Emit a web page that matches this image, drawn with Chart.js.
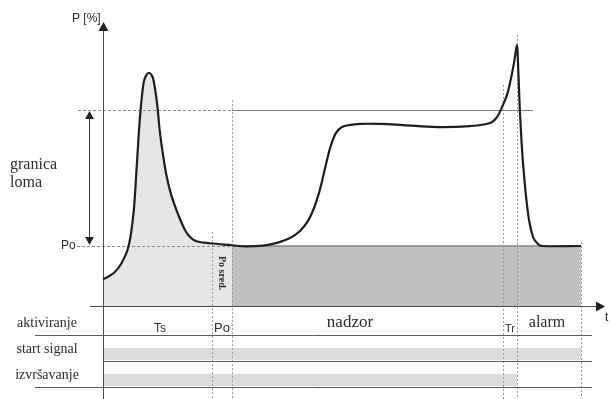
<!DOCTYPE html>
<html>
<head>
<meta charset="utf-8">
<script src="https://cdn.jsdelivr.net/npm/chart.js@4.4.0/dist/chart.umd.min.js"></script>
<style>
  html, body { margin: 0; padding: 0; background: #fff; }
  #wrap { width: 611px; height: 399px; position: relative; }
</style>
</head>
<body>
<div id="wrap"><canvas id="chart" width="611" height="399"></canvas></div>
<script>
// Krivulja: vrijeme t i tlak P [%] (granica loma = 100)
const tCurve = [0, 2.1, 3.7, 5.1, 6.1, 6.7, 7.4, 8.1, 8.6, 9.2, 9.7, 10.1, 10.8, 11.4, 12.1, 12.8, 13.6,
  14.4, 15.4, 16.4, 17.4, 18.7, 21.4, 25.8, 28.4, 32, 34.6, 37.4, 39.4, 41, 42.2, 43.2, 44, 44.8, 45.6, 46.6,
  47.8, 49.2, 51.4, 55.4, 60, 66.8, 73.4, 77.4, 78.8, 80, 80.8, 81.4, 82.2, 82.8, 83, 83.4, 84, 85, 86, 87,
  87.8, 95.6];
const pCurve = [13.6, 16.7, 21.8, 30.3, 47.3, 69.4, 96.6, 113.6, 117.6, 119, 117.9, 115.3, 103.6, 88.3, 75.5,
  65.3, 57.1, 51, 44.4, 38.8, 35.2, 33, 32, 31, 30.4, 30.8, 32.1, 34.7, 38.3, 43.4, 50, 57.7, 65.8, 74.5,
  82.1, 88.3, 91.3, 92.3, 92.9, 92.9, 92.3, 91.3, 91.8, 93.4, 96.4, 102.6, 107.7, 113.8, 124, 133.2, 124,
  98.5, 73, 47.4, 35.2, 31.6, 30.6, 30.6];

const P_LIMIT = 100;   // granica loma
const P_O = 30.6;      // Po

// Po sred., kraj Po, Tr, vrh (alarm), kraj
const eventTimes = [21.8, 25.8, 80, 82.8, 95.6];

const phaseLabels = ['Ts', 'Po', 'nadzor', 'Tr', 'alarm'];
const phaseCenters = [11.4, 23.8, 49.4, 81.4, 88.8];

const laneLabels = ['aktiviranje', 'start signal', 'izvršavanje'];
const startSignal = [0, 95.6];
const izvrsavanje = [0, 82.8];

const curveData = tCurve.map((t, i) => ({ x: t, y: pCurve[i] }));
const lightData = curveData.filter(p => p.x <= eventTimes[1]);
const darkData = [{ x: eventTimes[1], y: P_O }, { x: eventTimes[4], y: P_O }];

// trake u donjem dijelu (os 'lane': 1 red = 1 jedinica)
function laneBand(span, row) {
  return {
    data: [{ x: span[0], y: row + 0.46 }, { x: span[1], y: row + 0.46 }],
    yAxisID: 'lane',
    fill: { value: row },
    backgroundColor: '#dcdcdc',
    borderWidth: 0,
    pointRadius: 0
  };
}

const serif = '"Liberation Serif", "DejaVu Serif", serif';
const sans = '"Liberation Sans", Arial, sans-serif';

function arrowHead(ctx, x, y, dir, size) {
  ctx.beginPath();
  if (dir === 'up') { ctx.moveTo(x, y); ctx.lineTo(x - size * 0.55, y + size); ctx.lineTo(x + size * 0.55, y + size); }
  if (dir === 'down') { ctx.moveTo(x, y); ctx.lineTo(x - size * 0.55, y - size); ctx.lineTo(x + size * 0.55, y - size); }
  if (dir === 'right') { ctx.moveTo(x, y); ctx.lineTo(x - size, y - size * 0.55); ctx.lineTo(x - size, y + size * 0.55); }
  ctx.closePath();
  ctx.fill();
}

function line(ctx, x1, y1, x2, y2) {
  ctx.beginPath();
  ctx.moveTo(x1, y1);
  ctx.lineTo(x2, y2);
  ctx.stroke();
}

const diagram = {
  id: 'diagram',
  beforeDatasetDraw(chart, args) {
    if (args.index !== 0) return;   // prije crtanja krivulje
    const ctx = chart.ctx;
    const X = v => chart.scales.x.getPixelForValue(v);
    const Y = v => chart.scales.y.getPixelForValue(v);
    const L = v => chart.scales.lane.getPixelForValue(v);
    const bottom = chart.chartArea.bottom;
    ctx.save();
    ctx.lineWidth = 1;

    // isprekidane okomice
    const guideTops = [37.8, 105, 112.8, 138.3, 32.7];
    ctx.strokeStyle = '#9a9a9a';
    ctx.setLineDash([2, 2]);
    eventTimes.forEach((t, i) => line(ctx, Math.round(X(t)) + 0.5, Y(guideTops[i]), Math.round(X(t)) + 0.5, bottom));

    // granica loma i Po
    ctx.strokeStyle = '#8c8c8c';
    ctx.setLineDash([3, 2]);
    line(ctx, X(-5), Math.round(Y(P_LIMIT)) + 0.5, X(eventTimes[1]), Math.round(Y(P_LIMIT)) + 0.5);
    line(ctx, X(-5.2), Math.round(Y(P_O)) + 0.5, X(eventTimes[1]), Math.round(Y(P_O)) + 0.5);
    ctx.setLineDash([]);
    ctx.strokeStyle = '#7a7a7a';
    line(ctx, X(eventTimes[1]), Math.round(Y(P_LIMIT)) + 0.5, X(86), Math.round(Y(P_LIMIT)) + 0.5);

    // dvostruka strelica granice loma
    ctx.strokeStyle = '#333';
    ctx.fillStyle = '#222';
    const ax = Math.round(X(-2.8)) + 0.5;
    line(ctx, ax, Y(P_LIMIT) + 6, ax, Y(P_O) - 6);
    arrowHead(ctx, ax, Y(P_LIMIT) + 1, 'up', 8);
    arrowHead(ctx, ax, Y(P_O) - 1, 'down', 8);

    // linije redova
    ctx.strokeStyle = '#5a5a5a';
    line(ctx, 35, Math.round(L(1)) + 0.5, X(97.8), Math.round(L(1)) + 0.5);
    line(ctx, X(0), Math.round(L(2)) + 0.5, X(97.8), Math.round(L(2)) + 0.5);
    line(ctx, 35, Math.round(L(3)) + 0.5, X(97.8), Math.round(L(3)) + 0.5);

    // osi
    ctx.strokeStyle = '#4a4a4a';
    ctx.fillStyle = '#222';
    const x0 = Math.round(X(0)) + 0.5, y0 = Math.round(Y(0)) + 0.5;
    line(ctx, x0, bottom, x0, 30);
    arrowHead(ctx, x0, 22, 'up', 9);
    line(ctx, X(-2.6), y0, X(99.2), y0);
    arrowHead(ctx, X(100.4), y0, 'right', 9);
    ctx.restore();
  },
  afterDraw(chart) {
    const ctx = chart.ctx;
    const X = v => chart.scales.x.getPixelForValue(v);
    const Y = v => chart.scales.y.getPixelForValue(v);
    const L = v => chart.scales.lane.getPixelForValue(v);
    ctx.save();
    ctx.fillStyle = '#2b2b2b';
    ctx.textBaseline = 'alphabetic';

    ctx.font = '12px ' + sans;
    ctx.textAlign = 'left';
    ctx.fillText('P [%]', 72, 22);
    ctx.fillText('t', 605, 321);
    ctx.textBaseline = 'middle';
    ctx.fillText('Po', 61, Y(P_O));
    ctx.textBaseline = 'alphabetic';

    ctx.font = '16px ' + serif;
    ctx.fillText('granica', 10, 169);
    ctx.fillText('loma', 10, 187);

    // nazivi redova
    ctx.font = '14px ' + serif;
    ctx.textAlign = 'center';
    laneLabels.forEach((s, i) => ctx.fillText(s, 47, L(i + 0.5) + 5));

    // faze
    const phaseFonts = ['12px ' + sans, '13px ' + sans, '17px ' + serif, '11px ' + sans, '16px ' + serif];
    const phaseBase = [332, 332, 327, 332, 327];
    phaseLabels.forEach((s, i) => {
      ctx.font = phaseFonts[i];
      ctx.fillText(s, X(phaseCenters[i]), phaseBase[i]);
    });

    // Po sred. (okomito)
    ctx.save();
    ctx.translate(X(23.8) - 3, 256);
    ctx.rotate(Math.PI / 2);
    ctx.font = 'bold 10px ' + serif;
    ctx.textAlign = 'left';
    ctx.fillText('Po sred.', 0, 0);
    ctx.restore();
    ctx.restore();
  }
};

new Chart(document.getElementById('chart'), {
  type: 'line',
  data: {
    datasets: [
      {
        data: curveData,
        borderColor: '#1e1e1e',
        borderWidth: 2.2,
        pointRadius: 0,
        tension: 0.35,
        fill: false,
        clip: false
      },
      {
        data: lightData,
        borderWidth: 0,
        pointRadius: 0,
        tension: 0.35,
        backgroundColor: '#e6e6e6',
        fill: 'origin'
      },
      {
        data: darkData,
        borderColor: '#858585',
        borderWidth: 1.5,
        pointRadius: 0,
        backgroundColor: '#c0c0c0',
        fill: 'origin'
      },
      laneBand(startSignal, 1.5),
      laneBand(izvrsavanje, 2.5)
    ]
  },
  options: {
    responsive: false,
    animation: false,
    devicePixelRatio: 1,
    layout: { padding: { left: 103, right: 8, top: 22, bottom: 0 } },
    plugins: { legend: { display: false }, tooltip: { enabled: false } },
    scales: {
      x: { type: 'linear', min: 0, max: 100, display: false },
      y: { type: 'linear', min: -47.45, max: 144.9, display: false },
      lane: { type: 'linear', min: -11.04, max: 3.46, reverse: true, display: false }
    }
  },
  plugins: [diagram]
});
</script>
</body>
</html>
